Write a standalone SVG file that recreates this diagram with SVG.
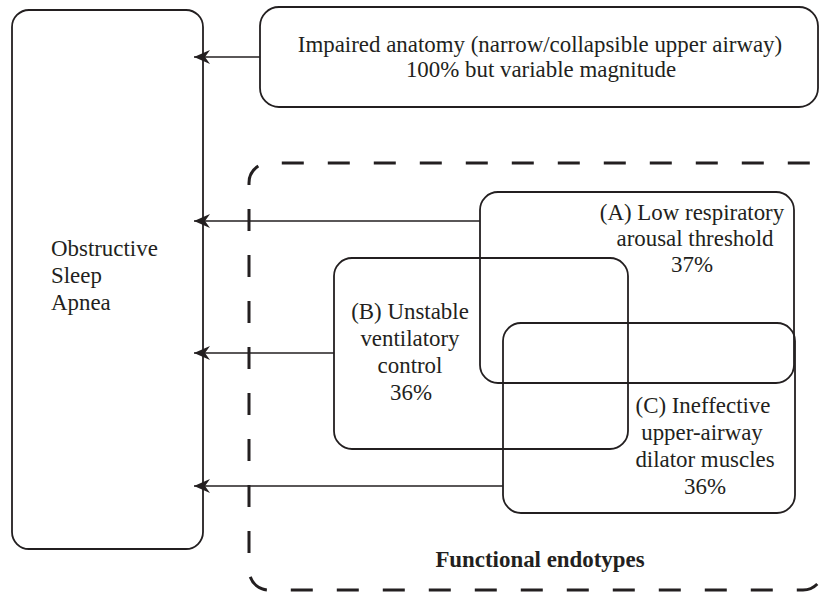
<svg xmlns="http://www.w3.org/2000/svg" width="819" height="592" viewBox="0 0 819 592">
<defs>
<style>
.box{fill:none;stroke:#231f20;stroke-width:1.8}
.t{font-family:"Liberation Serif","Times New Roman",serif;font-size:22.9px;fill:#231f20}
.c{text-anchor:middle}
.b{font-weight:bold}
.dash{fill:none;stroke:#231f20;stroke-width:3;stroke-dasharray:22 24}
.conn{fill:none;stroke:#231f20;stroke-width:1.6;marker-end:url(#ah)}
</style>
<marker id="ah" viewBox="0 0 16 14" refX="16" refY="7" markerWidth="16" markerHeight="14" markerUnits="userSpaceOnUse" orient="auto">
<path d="M0,0 L16,7 L0,14 L5,7 Z" fill="#231f20"/>
</marker>
</defs>
<rect width="819" height="592" fill="#fff"/>
<g id="group-endotypes">
<path class="dash" d="M249,185 V183 A20,20 0 0 1 269,163 H830"/>
<path class="dash" style="stroke-dashoffset:22" d="M249,185 V570 A20,20 0 0 0 269,590 H803 A20,20 0 0 0 823,570"/>
<text class="t c b" x="540" y="567">Functional endotypes</text>
</g>
<g id="node-osa">
<rect class="box" x="12" y="10" width="191" height="539" rx="17"/>
<text class="t" x="51" y="256">Obstructive</text>
<text class="t" x="51" y="283">Sleep</text>
<text class="t" x="51" y="310">Apnea</text>
</g>
<g id="node-anatomy">
<rect class="box" x="260" y="7" width="558" height="100" rx="19"/>
<text class="t c" x="540" y="52">Impaired anatomy (narrow/collapsible upper airway)</text>
<text class="t c" x="541" y="77">100% but variable magnitude</text>
</g>
<g id="node-a">
<rect class="box" x="480" y="192" width="314" height="191" rx="18"/>
<text class="t c" x="692" y="220">(A) Low respiratory</text>
<text class="t c" x="695" y="246">arousal threshold</text>
<text class="t c" x="692" y="272">37%</text>
</g>
<g id="node-b">
<rect class="box" x="334" y="258" width="294" height="191" rx="18"/>
<text class="t c" x="410" y="319">(B) Unstable</text>
<text class="t c" x="410" y="346">ventilatory</text>
<text class="t c" x="410" y="373">control</text>
<text class="t c" x="411" y="400">36%</text>
</g>
<g id="node-c">
<rect class="box" x="503" y="323" width="292" height="190" rx="18"/>
<text class="t c" x="703" y="413">(C) Ineffective</text>
<text class="t c" x="702" y="440">upper-airway</text>
<text class="t c" x="705" y="467">dilator muscles</text>
<text class="t c" x="705" y="494">36%</text>
</g>
<g id="connectors">
<path class="conn" d="M260,57 H194"/>
<path class="conn" d="M480,221 H194"/>
<path class="conn" d="M334,353 H194"/>
<path class="conn" d="M503,486 H194"/>
</g>
</svg>
